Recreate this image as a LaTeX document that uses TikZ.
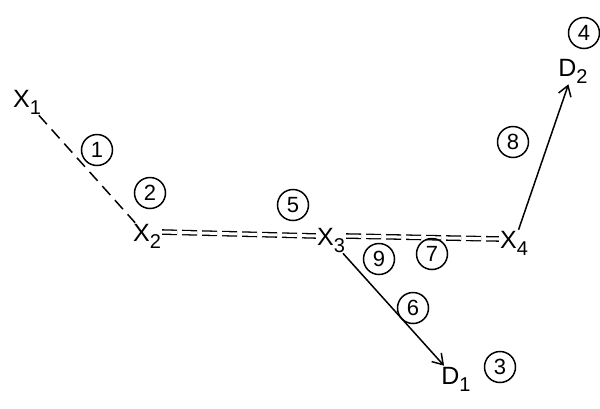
\documentclass[tikz,border=0pt]{standalone}
\usepackage{fontspec}
\setmainfont{Liberation Sans}
\usetikzlibrary{arrows.meta}
\newcommand{\indice}[1]{\raisebox{-7pt}{\fontsize{20}{21}\selectfont #1}}

\begin{document}
\begin{tikzpicture}[x=1pt, y=-1pt, font=\fontsize{25}{27}\selectfont,
    punto/.style={inner sep=1pt},
    num/.style={draw, circle, line width=1.5pt, inner sep=0pt, minimum size=31pt, font=\fontsize{22}{23}\selectfont},
    linea/.style={line width=1.5pt}]
            \useasboundingbox (0,0) rectangle (600,408);

            % Puntos
            \node[punto] (X1) at (27,102) {X\indice{1}};
            \node[punto] (X2) at (147,236) {X\indice{2}};
            \node[punto] (X3) at (331,240) {X\indice{3}};
            \node[punto] (X4) at (514,243) {X\indice{4}};
            \node[punto] (D1) at (456,379) {D\indice{1}};
            \node[punto] (D2) at (573,71) {D\indice{2}};

            % Tramos punteados
            \draw[linea, dash pattern=on 12pt off 7pt] (X1) -- (X2);
            \draw[line width=1.3pt, double=white, double distance=3pt, dash pattern=on 15pt off 5pt] ([yshift=4pt]X2.east) -- ([yshift=4pt]X3.west);
            \draw[line width=1.3pt, double=white, double distance=3pt, dash pattern=on 15pt off 5pt] ([yshift=4pt]X3.east) -- ([yshift=4pt]X4.west);

            % Flechas
            \draw[linea, -{Straight Barb[length=10pt, width=13pt]}] (X3) -- (D1);
            \draw[linea, -{Straight Barb[length=10pt, width=13pt]}] (X4) -- (D2);

            % Numeros
            \node[num] (n1) at (97,150) {1};
            \node[num] (n2) at (150,193) {2};
            \node[num] (n3) at (500,367) {3};
            \node[num] (n4) at (584,33) {4};
            \node[num] (n5) at (293,205) {5};
            \node[num] (n6) at (413,308) {6};
            \node[num] (n7) at (432,254) {7};
            \node[num] (n8) at (513,142) {8};
            \node[num] (n9) at (379,259) {9};
        \end{tikzpicture}
\end{document}
